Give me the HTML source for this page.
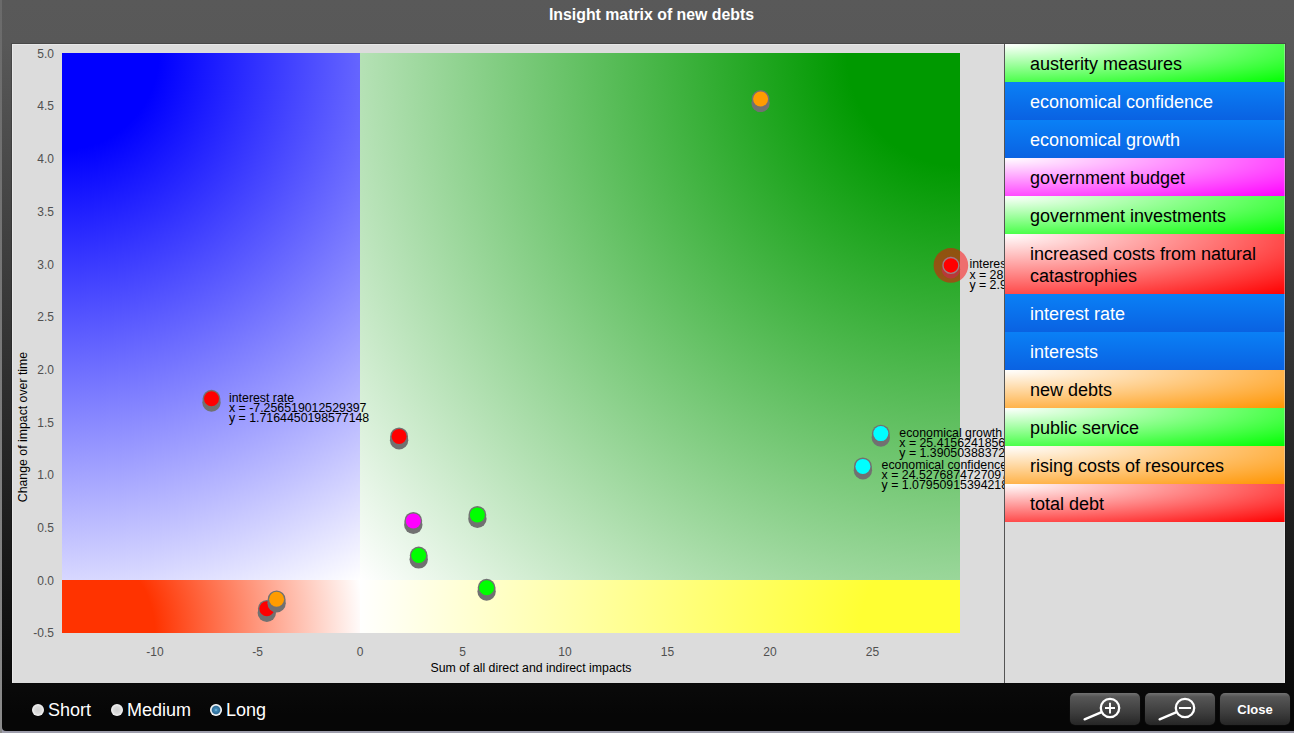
<!DOCTYPE html>
<html>
<head>
<meta charset="utf-8">
<title>Insight matrix of new debts</title>
<style>
html,body{margin:0;padding:0;}
body{width:1294px;height:733px;overflow:hidden;background:#9d9dab;font-family:"Liberation Sans",Arial,sans-serif;position:relative;}
#dlg{position:absolute;left:2px;top:0;width:1292px;height:731px;background:linear-gradient(to bottom,#595959 0px,#585858 44px,#060606 715px,#060606 731px);border-bottom-left-radius:4px;}
#edge{position:absolute;left:0;top:0;width:2px;height:733px;background:linear-gradient(to bottom,#6a6a6a,#8a8a8a);}
#title{position:absolute;left:0;top:5px;width:1303px;text-align:center;color:#fff;font-weight:bold;font-size:15.85px;line-height:20px;}
#panel{position:absolute;left:12px;top:44px;width:1273px;height:639px;background:#dcdcdc;box-shadow:inset 1px 1px 0 #e8e8e8,inset -1px 0 0 #e6e6e6,0 0 0 1px rgba(0,0,0,.18);}
#chart{position:absolute;left:0;top:0;width:992px;height:639px;overflow:hidden;}
#chart svg{position:absolute;left:0;top:0;}
#side{position:absolute;left:992px;top:0;width:280px;height:639px;border-left:1px solid #555;}
#side:after{content:"";position:absolute;right:0;top:0;width:1px;height:478px;background:rgba(225,225,225,.4);}
.it{box-sizing:border-box;width:280px;height:38px;padding:9px 0 7px 25px;font-size:18px;line-height:22px;color:#000;}
.it.two{height:60px;}
.g{background:radial-gradient(ellipse farthest-corner at 0 0,#fff,#0f0);}
.m{background:radial-gradient(ellipse farthest-corner at 0 0,#fff,#f0f);}
.r{background:radial-gradient(ellipse farthest-corner at 0 0,#fff,#f00);}
.o{background:radial-gradient(ellipse farthest-corner at 0 0,#fff,#ff9400);}
.b{background:linear-gradient(to bottom,#0a80f6,#0a62e2);color:#fff;}
#radios{position:absolute;left:0;top:690px;height:40px;color:#fff;font-size:18px;}
.rd{position:absolute;top:14px;width:12px;height:12px;border-radius:50%;background:radial-gradient(circle at 50% 50%,#cfcfcf 0,#dadada 40%,#f4f4f4 70%,#ffffff 100%);}
.rd.sel{background:radial-gradient(circle at 50% 50%,#7cc4e4 0,#3f86b4 18%,#2f6c96 44%,#dfe8ee 56%,#ffffff 66%,#fff 100%);}
.rl{position:absolute;top:9px;line-height:22px;white-space:nowrap;}
.btn{position:absolute;top:693px;width:70px;height:32px;border-radius:5px;background:linear-gradient(to bottom,#727272 0,#565656 12%,#3e3e3e 60%,#262626 100%);box-shadow:0 0 0 1px #0a0a0a;}
.btn svg{position:absolute;left:0;top:0;}
.btn span{position:absolute;left:0;top:1px;width:70px;line-height:32px;text-align:center;color:#fff;font-weight:bold;font-size:13px;}
</style>
</head>
<body>
<div id="edge"></div>
<div id="dlg"></div>
<div id="title">Insight matrix of new debts</div>
<div id="panel">
<div id="chart">
<svg width="992" height="639" viewBox="0 0 992 639" font-family="Liberation Sans, Arial, sans-serif"><defs><radialGradient id="gb" gradientUnits="userSpaceOnUse" cx="50" cy="9" r="605.42"><stop offset="0.0000" stop-color="#0000ff"/><stop offset="0.1602" stop-color="#0000ff"/><stop offset="1.0000" stop-color="#ffffff"/></radialGradient><radialGradient id="gg" gradientUnits="userSpaceOnUse" cx="948" cy="9" r="798.58"><stop offset="0.0000" stop-color="#009900"/><stop offset="0.1415" stop-color="#009900"/><stop offset="1.0000" stop-color="#ffffff"/></radialGradient><radialGradient id="gr" gradientUnits="userSpaceOnUse" cx="50" cy="589" r="302.68"><stop offset="0.0000" stop-color="#ff3300"/><stop offset="0.3073" stop-color="#ff3300"/><stop offset="1.0000" stop-color="#ffffff"/></radialGradient><radialGradient id="gy" gradientUnits="userSpaceOnUse" cx="948" cy="589" r="602.34"><stop offset="0.0000" stop-color="#ffff33"/><stop offset="0.1660" stop-color="#ffff33"/><stop offset="1.0000" stop-color="#ffffff"/></radialGradient></defs><rect x="50" y="9" width="298" height="527" fill="url(#gb)"/>
<rect x="348" y="9" width="600" height="527" fill="url(#gg)"/>
<rect x="50" y="536" width="298" height="53" fill="url(#gr)"/>
<rect x="348" y="536" width="600" height="53" fill="url(#gy)"/><g font-size="12" fill="#505050"><text x="42" y="13.7" text-anchor="end">5.0</text><text x="42" y="66.4" text-anchor="end">4.5</text><text x="42" y="119.1" text-anchor="end">4.0</text><text x="42" y="171.8" text-anchor="end">3.5</text><text x="42" y="224.5" text-anchor="end">3.0</text><text x="42" y="277.2" text-anchor="end">2.5</text><text x="42" y="329.9" text-anchor="end">2.0</text><text x="42" y="382.6" text-anchor="end">1.5</text><text x="42" y="435.3" text-anchor="end">1.0</text><text x="42" y="488.0" text-anchor="end">0.5</text><text x="42" y="540.7" text-anchor="end">0.0</text><text x="42" y="593.4" text-anchor="end">-0.5</text><text x="143.0" y="612.0" text-anchor="middle">-10</text><text x="245.5" y="612.0" text-anchor="middle">-5</text><text x="348.0" y="612.0" text-anchor="middle">0</text><text x="450.5" y="612.0" text-anchor="middle">5</text><text x="553.0" y="612.0" text-anchor="middle">10</text><text x="655.5" y="612.0" text-anchor="middle">15</text><text x="758.0" y="612.0" text-anchor="middle">20</text><text x="860.5" y="612.0" text-anchor="middle">25</text></g><g font-size="12.3" fill="#000"><text x="519" y="627.5" text-anchor="middle">Sum of all direct and indirect impacts</text>
<text transform="translate(15.3,383) rotate(-90)" text-anchor="middle">Change of impact over time</text></g><circle cx="199.5" cy="358.6" r="9.2" fill="#717171"/><circle cx="199.5" cy="354.7" r="8.9" fill="#717171"/><circle cx="199.5" cy="354.7" r="7.5" fill="#ff0000"/><circle cx="387.1" cy="396.3" r="9.2" fill="#717171"/><circle cx="387.1" cy="392.4" r="8.9" fill="#717171"/><circle cx="387.1" cy="392.4" r="7.5" fill="#ff0000"/><circle cx="401.3" cy="480.8" r="9.2" fill="#717171"/><circle cx="401.3" cy="476.9" r="8.9" fill="#717171"/><circle cx="401.3" cy="476.9" r="7.5" fill="#ff00ff"/><circle cx="465.4" cy="474.8" r="9.2" fill="#717171"/><circle cx="465.4" cy="470.9" r="8.9" fill="#717171"/><circle cx="465.4" cy="470.9" r="7.5" fill="#00ff00"/><circle cx="406.7" cy="515.4" r="9.2" fill="#717171"/><circle cx="406.7" cy="511.5" r="8.9" fill="#717171"/><circle cx="406.7" cy="511.5" r="7.5" fill="#00ff00"/><circle cx="474.6" cy="547.6" r="9.2" fill="#717171"/><circle cx="474.6" cy="543.7" r="8.9" fill="#717171"/><circle cx="474.6" cy="543.7" r="7.5" fill="#00ff00"/><circle cx="254.8" cy="568.7" r="9.2" fill="#717171"/><circle cx="254.8" cy="564.8" r="8.9" fill="#717171"/><circle cx="254.8" cy="564.8" r="7.5" fill="#ff0000"/><circle cx="264.6" cy="559.2" r="9.2" fill="#717171"/><circle cx="264.6" cy="555.3" r="8.9" fill="#717171"/><circle cx="264.6" cy="555.3" r="7.5" fill="#ff9c00"/><circle cx="748.6" cy="58.9" r="9.2" fill="#717171"/><circle cx="748.6" cy="55.0" r="8.9" fill="#717171"/><circle cx="748.6" cy="55.0" r="7.5" fill="#ff9c00"/><circle cx="868.8" cy="393.5" r="9.2" fill="#717171"/><circle cx="868.8" cy="389.6" r="8.9" fill="#717171"/><circle cx="868.8" cy="389.6" r="7.5" fill="#00ffff"/><circle cx="850.9" cy="426.3" r="9.2" fill="#717171"/><circle cx="850.9" cy="422.4" r="8.9" fill="#717171"/><circle cx="850.9" cy="422.4" r="7.5" fill="#00ffff"/><circle cx="938.9" cy="225.3" r="9.2" fill="#717171"/><circle cx="938.9" cy="221.4" r="8.9" fill="#717171"/><circle cx="938.9" cy="221.4" r="7.5" fill="#ff0000"/><circle cx="938.9" cy="221.39999999999998" r="17.3" fill="#ff0000" fill-opacity="0.5"/><circle cx="938.9" cy="221.39999999999998" r="7.9" fill="#ff0000" stroke="#988484" stroke-width="1.3"/><g font-size="12.33" fill="#000"><text x="217.0" y="358.0">interest rate</text><text x="217.0" y="368.1">x = -7.256519012529397</text><text x="217.0" y="378.2">y = 1.7164450198577148</text><text x="887.3" y="392.8">economical growth</text><text x="887.3" y="402.9">x = 25.415624185637213</text><text x="887.3" y="413.0">y = 1.3905038837246502</text><text x="869.6" y="424.8">economical confidence</text><text x="869.6" y="434.9">x = 24.527687472709714</text><text x="869.6" y="445.0">y = 1.0795091539421834</text><text x="957.4" y="224.4">interests</text><text x="957.4" y="234.5">x = 28.81402938154573</text><text x="957.4" y="244.6">y = 2.9781447326519437</text></g></svg>
</div>
<div id="side">
<div class="it g">austerity measures</div>
<div class="it b">economical confidence</div>
<div class="it b">economical growth</div>
<div class="it m">government budget</div>
<div class="it g">government investments</div>
<div class="it two r">increased costs from natural catastrophies</div>
<div class="it b">interest rate</div>
<div class="it b">interests</div>
<div class="it o">new debts</div>
<div class="it g">public service</div>
<div class="it o">rising costs of resources</div>
<div class="it r">total debt</div>
</div>
</div>
<div id="radios">
<div class="rd" style="left:32px"></div><div class="rl" style="left:48px">Short</div>
<div class="rd" style="left:111px"></div><div class="rl" style="left:127px">Medium</div>
<div class="rd sel" style="left:210px"></div><div class="rl" style="left:226px">Long</div>
</div>
<div class="btn" style="left:1070px"><svg width="70" height="32" viewBox="0 0 70 32"><g fill="none" stroke="#fff" stroke-width="2.4" stroke-linecap="round"><circle cx="40" cy="15" r="9.2" stroke-width="2.3"/><path d="M31 19.4 L14.6 26.3"/><path d="M35 15h10M40 9.8v10.6" stroke-width="1.9" stroke-linecap="butt"/></g></svg></div>
<div class="btn" style="left:1145px"><svg width="70" height="32" viewBox="0 0 70 32"><g fill="none" stroke="#fff" stroke-width="2.4" stroke-linecap="round"><circle cx="40" cy="15" r="9.2" stroke-width="2.3"/><path d="M31 19.4 L14.6 26.3"/><path d="M34 15h12" stroke-width="2" stroke-linecap="butt"/></g></svg></div>
<div class="btn" style="left:1220px"><span>Close</span></div>
</body>
</html>
